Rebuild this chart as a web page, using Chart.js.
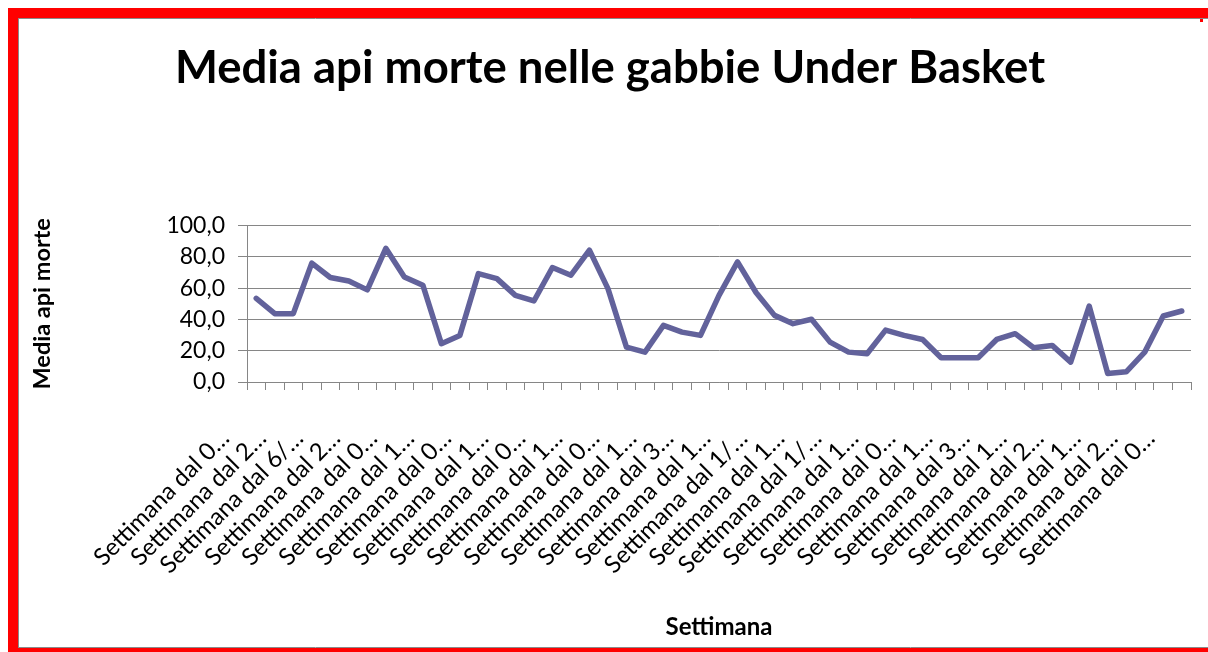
<!DOCTYPE html>
<html>
<head>
<meta charset="utf-8">
<title>Media api morte nelle gabbie Under Basket</title>
<script src="https://cdn.jsdelivr.net/npm/chart.js@4/dist/chart.umd.min.js"></script>
<style>
  html, body { margin: 0; padding: 0; background: #ffffff; }
  #wrap { position: relative; width: 1208px; height: 652px; }
  canvas { display: block; }
</style>
</head>
<body>
<div id="wrap"><canvas id="chart" width="1208" height="652"></canvas></div>
<script>
// Weekly average of dead bees collected in the Under Basket cages
const tickLabels = [
  'Settimana dal 0…', 'Settimana dal 2…', 'Settimana dal 6/…', 'Settimana dal 2…',
  'Settimana dal 0…', 'Settimana dal 1…', 'Settimana dal 0…', 'Settimana dal 1…',
  'Settimana dal 0…', 'Settimana dal 1…', 'Settimana dal 0…', 'Settimana dal 1…',
  'Settimana dal 3…', 'Settimana dal 1…', 'Settimana dal 1/…', 'Settimana dal 1…',
  'Settimana dal 1/…', 'Settimana dal 1…', 'Settimana dal 0…', 'Settimana dal 1…',
  'Settimana dal 3…', 'Settimana dal 1…', 'Settimana dal 2…', 'Settimana dal 1…',
  'Settimana dal 2…', 'Settimana dal 0…'
];

const deadBees = [
  53.5, 43.7, 43.7, 76.0, 66.8, 64.6, 58.9, 85.5, 67.2, 61.9,
  24.5, 29.8, 69.3, 66.1, 55.4, 51.8, 73.2, 68.3, 84.3, 59.7,
  22.3, 19.1, 36.2, 31.9, 29.8, 55.4, 76.8, 57.2, 42.6, 37.3,
  40.1, 25.5, 19.1, 18.1, 33.2, 29.8, 27.2, 15.5, 15.5, 15.5,
  27.2, 30.9, 21.9, 23.4, 12.7, 48.6, 5.4, 6.5, 19.1, 42.2,
  45.4
];

const yMin = 0;
const yMax = 100;
const yStep = 20;

// one category per week; only every other week carries a visible label
const weeks = deadBees.map((_, i) => (i % 2 === 0 ? tickLabels[i / 2] : ''));

const FONT = 'Lato, "Open Sans", sans-serif';
const AXIS_GREY = '#868686';

// red frame around the whole chart
const framePlugin = {
  id: 'frame',
  beforeDraw(chart) {
    const { ctx, width: W, height: H } = chart;
    ctx.save();
    ctx.fillStyle = '#ffffff';
    ctx.fillRect(0, 0, W, H);
    ctx.fillStyle = '#ff0000';
    ctx.fillRect(8, 8, W - 8, 10);
    ctx.fillRect(8, 8, 10, H - 8);
    ctx.fillRect(8, 648, W - 8, 4);
    ctx.fillRect(1200, 8, 3, 14);
    ctx.strokeStyle = '#8a8a8a';
    ctx.lineWidth = 1;
    ctx.beginPath();
    ctx.moveTo(18.5, 18); ctx.lineTo(18.5, 648);
    ctx.moveTo(18, 18.5); ctx.lineTo(W, 18.5);
    ctx.moveTo(18, 647.5); ctx.lineTo(W, 647.5);
    ctx.stroke();
    ctx.restore();
  }
};

new Chart(document.getElementById('chart'), {
  type: 'line',
  data: {
    labels: weeks,
    datasets: [{
      label: 'Media api morte',
      data: deadBees,
      borderColor: '#62629b',
      borderWidth: 5.5,
      tension: 0,
      fill: false,
      pointRadius: 0,
      pointHoverRadius: 0,
      borderCapStyle: 'round',
      borderJoinStyle: 'round'
    }]
  },
  options: {
    responsive: false,
    animation: false,
    devicePixelRatio: 1,
    layout: { padding: { left: 29, right: 17, top: 18, bottom: 8 } },
    plugins: {
      legend: { display: false },
      tooltip: { enabled: false },
      title: {
        display: true,
        text: 'Media api morte nelle gabbie Under Basket',
        color: '#000000',
        font: { family: FONT, size: 45.5, weight: 'bold', lineHeight: 1.2 },
        padding: { top: 23, bottom: 130 }
      }
    },
    scales: {
      x: {
        offset: true,
        grid: {
          display: true,
          offset: true,
          drawOnChartArea: false,
          drawTicks: true,
          tickLength: 8,
          color: AXIS_GREY
        },
        border: { display: true, color: AXIS_GREY, width: 1 },
        ticks: {
          autoSkip: false,
          maxRotation: 45,
          minRotation: 45,
          color: '#000000',
          font: { family: FONT, size: 24 },
          padding: 34,
          labelOffset: -31
        },
        title: {
          display: true,
          text: 'Settimana',
          color: '#000000',
          font: { family: FONT, size: 24, weight: 'bold', lineHeight: 1.2 },
          padding: { top: 0, bottom: 2 }
        },
        afterFit(scale) {
          scale.height = 644 - 382;
          scale.paddingLeft = 0;
          scale.paddingRight = 0;
        }
      },
      y: {
        min: yMin,
        max: yMax,
        grid: { color: AXIS_GREY, tickLength: 9, drawTicks: true },
        border: { display: true, color: AXIS_GREY, width: 1 },
        ticks: {
          stepSize: yStep,
          color: '#000000',
          font: { family: FONT, size: 23 },
          padding: 13,
          callback: (v) => Number(v).toFixed(1).replace('.', ',')
        },
        title: {
          display: true,
          text: 'Media api morte',
          color: '#000000',
          font: { family: FONT, size: 23.5, weight: 'bold', lineHeight: 1.2 },
          padding: { top: -1, bottom: 0 }
        },
        afterFit(scale) { scale.width = 218; }
      }
    }
  },
  plugins: [framePlugin]
});
</script>
</body>
</html>
